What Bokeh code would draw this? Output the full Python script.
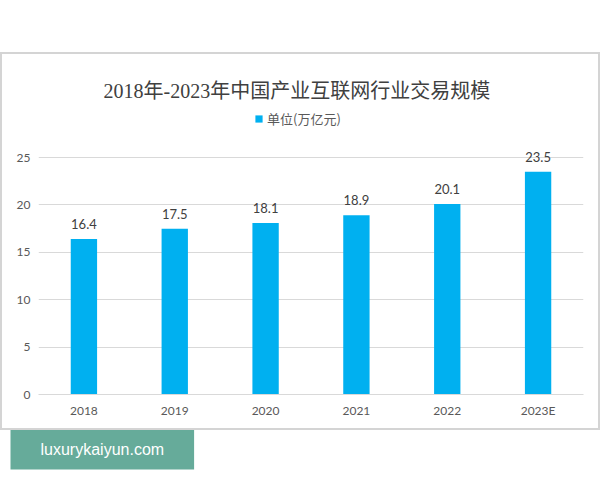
from bokeh.plotting import figure
from bokeh.models import (ColumnDataSource, LabelSet, Legend, LegendItem, Title,
                          FixedTicker, Range1d, InlineStyleSheet)
from bokeh.core.properties import value
from bokeh.embed import file_html
from bokeh.resources import INLINE

years = ["2018", "2019", "2020", "2021", "2022", "2023E"]
values = [16.4, 17.5, 18.1, 18.9, 20.1, 23.5]
labels = ["16.4", "17.5", "18.1", "18.9", "20.1", "23.5"]
y_ticks = [0, 5, 10, 15, 20, 25]
series_name = "单位(万亿元)"
title_text = "2018年-2023年中国产业互联网行业交易规模"
watermark = "luxurykaiyun.com"

src = ColumnDataSource(dict(x=years, top=values, lab=labels))

W, H = 600, 480
p = figure(x_range=years, y_range=Range1d(0, 30.49), width=W, height=H,
           output_backend="svg", toolbar_location=None,
           min_border_left=38, min_border_right=17, min_border_top=105, min_border_bottom=86)
p.outline_line_color = None
p.stylesheets = [InlineStyleSheet(css="""
:host { position: relative; }
:host::after { content: ""; position: absolute; left: 0px; top: 52px; width: 596px; height: 374px;
  border: 2px solid #d4d4d4; pointer-events: none; z-index: 5; }
""")]

p.title.text = title_text
p.title.align = "left"
p.title.offset = 65
p.title.text_font = "Liberation Serif, Noto Sans CJK SC"
p.title.text_font_size = "20px"
p.title.text_font_style = "normal"
p.title.text_color = "#404040"
p.title.standoff = 7

r = p.vbar(x="x", top="top", width=0.29, source=src, fill_color="#00B0F0", line_color=None)

p.yaxis.ticker = FixedTicker(ticks=y_ticks)
p.yaxis.axis_line_color = None
p.yaxis.major_tick_line_color = None
p.yaxis.minor_tick_line_color = None
p.yaxis.major_tick_out = 0
p.yaxis.major_label_standoff = 8
p.xaxis.axis_line_color = "#d9d9d9"
p.xaxis.major_tick_line_color = None
p.xaxis.minor_tick_line_color = None
p.xaxis.major_tick_out = 0
p.xaxis.major_label_standoff = 8
for ax in (p.xaxis, p.yaxis):
    ax.major_label_text_font = "Lato"
    ax.major_label_text_font_size = "12px"
    ax.major_label_text_color = "#595959"

p.xgrid.grid_line_color = None
p.ygrid.grid_line_color = "#d9d9d9"

lbl = LabelSet(x="x", y="top", text="lab", source=src, text_align="center",
               text_baseline="bottom", y_offset=10, text_font=value("Lato"),
               text_font_size=value("13px"), text_color=value("#404040"))
p.add_layout(lbl)

legend = Legend(items=[LegendItem(label=series_name, renderers=[r])],
                location=(216, 266), orientation="horizontal",
                label_text_font="Noto Sans CJK SC", label_text_font_size="13px",
                label_text_color="#595959", glyph_width=9, glyph_height=9,
                border_line_color=None, background_fill_alpha=0,
                padding=2, margin=0, label_standoff=4)
p.add_layout(legend)

wm = Title(text=watermark, align="left", offset=-28, standoff=12,
           text_font="Liberation Sans", text_font_size="16px", text_font_style="normal",
           text_color="white", background_fill_color="#66ab9a", padding=(30, 12))
p.add_layout(wm, "below")

open("out.html", "w").write(file_html(p, INLINE))
